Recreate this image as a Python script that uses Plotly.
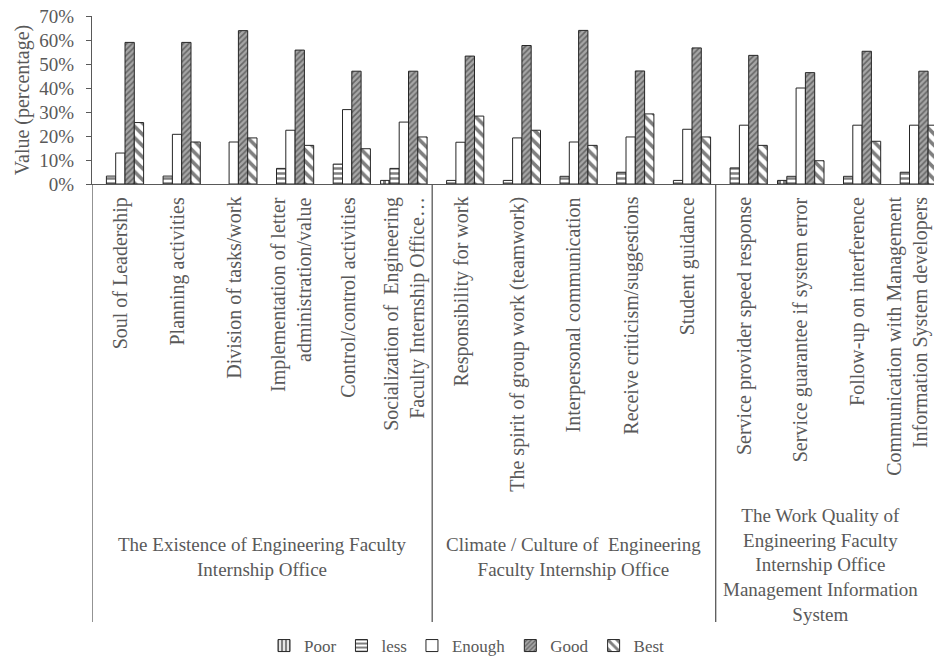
import plotly.graph_objects as go

categories = [
    "Soul of Leadership",
    "Planning activities",
    "Division of tasks/work",
    "Implementation of letter<br>administration/value",
    "Control/control activities",
    "Socialization of  Engineering<br>Faculty Internship Office…",
    "Responsibility for work",
    "The spirit of group work (teamwork)",
    "Interpersonal communication",
    "Receive criticism/suggestions",
    "Student guidance",
    "Service provider speed response",
    "Service guarantee if system error",
    "Follow-up on interference",
    "Communication with Management<br>Information System developers",
]
groups = [
    "The Existence of Engineering Faculty<br>Internship Office",
    "Climate / Culture of  Engineering<br>Faculty Internship Office",
    "The Work Quality of<br>Engineering Faculty<br>Internship Office<br>Management Information<br>System",
]
group_sizes = [6, 5, 4]

poor = [None, None, None, None, None, 1.5, None, None, None, None, None, None, 1.5, None, None]
less = [3.3, 3.3, None, 6.5, 8.3, 6.5, 1.5, 1.5, 3.2, 4.9, 1.5, 6.7, 3.2, 3.2, 4.9]
enough = [12.9, 20.7, 17.5, 22.4, 31.0, 25.8, 17.4, 19.2, 17.5, 19.6, 22.8, 24.5, 40.0, 24.5, 24.5]
good = [59.0, 59.0, 63.9, 55.8, 47.0, 47.0, 53.3, 57.7, 64.0, 47.1, 56.7, 53.6, 46.4, 55.3, 47.0]
best = [25.6, 17.5, 19.2, 16.1, 14.7, 19.6, 28.3, 22.4, 16.1, 29.2, 19.6, 16.1, 9.7, 17.8, 24.5]

series_names = ["Poor", "less", "Enough", "Good", "Best"]
series_values = [poor, less, enough, good, best]

FONT = "Liberation Serif"
TXT = "#595959"
EDGE = "#262626"

patterns = {
    "Poor": dict(shape="|", fgcolor="#000000", bgcolor="#ffffff", size=5, solidity=0.6),
    "less": dict(shape="-", fgcolor="#000000", bgcolor="#ffffff", size=5, solidity=0.5),
    "Enough": dict(shape="", fgcolor="#000000", bgcolor="#ffffff"),
    "Good": dict(shape="/", fgcolor="#262626", bgcolor="#a6a6a6", size=4, solidity=0.4),
    "Best": dict(shape="\\", fgcolor="#000000", bgcolor="#ffffff", size=8, solidity=0.45),
}

x_idx = list(range(len(categories)))

fig = go.Figure()
for name, vals in zip(series_names, series_values):
    fig.add_trace(go.Bar(
        name=name, x=x_idx, y=vals,
        marker=dict(color="#ffffff", line=dict(color=EDGE, width=1),
                    pattern=patterns[name]),
    ))

fig_w, fig_h = 934, 665
left, top, bottom_px = 92, 16, 184
plot_h = bottom_px - top
slot = 56.7
x_end = -0.5 + (fig_w - left) / slot


def py(p):
    return (bottom_px - p) / plot_h

annotations = []
for i, c in enumerate(categories):
    # nudge the last (edge) label slightly left so it stays inside the window
    lx = i - 0.12 if i == len(categories) - 1 else i
    annotations.append(dict(
        x=lx, xref="x", y=py(195), yref="paper", text=c, textangle=-90,
        showarrow=False, yanchor="top", xanchor="center", align="right",
        font=dict(family=FONT, size=20, color=TXT),
    ))

starts = [0]
for s in group_sizes[:-1]:
    starts.append(starts[-1] + s)
group_centers_y = [557, 557, 565]
group_centers_x = [2.5, 8.0, 12.35]
for g, gx, gy in zip(groups, group_centers_x, group_centers_y):
    annotations.append(dict(
        x=gx, xref="x", y=py(gy), yref="paper", text=g,
        showarrow=False, yanchor="middle", xanchor="center", align="center",
        font=dict(family=FONT, size=19, color=TXT),
    ))

shapes = []
for b in [-0.5] + [st - 0.5 for st in starts[1:]]:
    shapes.append(dict(type="line", xref="x", yref="paper", x0=b, x1=b,
                       y0=0, y1=py(622), line=dict(color="#595959", width=1.3)))

fig.update_layout(
    width=fig_w, height=fig_h, autosize=False,
    margin=dict(l=left, r=0, t=top, b=fig_h - bottom_px, autoexpand=False),
    paper_bgcolor="white", plot_bgcolor="white",
    barmode="group", bargap=0.18, bargroupgap=0,
    font=dict(family=FONT, color=TXT),
    showlegend=True,
    legend=dict(orientation="h", xref="container", yref="container",
                x=467 / fig_w, xanchor="center",
                y=(fig_h - 646) / fig_h, yanchor="middle",
                font=dict(family=FONT, size=17, color=TXT),
                itemwidth=30, traceorder="normal", tracegroupgap=0),
    annotations=annotations, shapes=shapes,
)
fig.update_xaxes(range=[-0.5, x_end], showticklabels=False, showgrid=False,
                 showline=True, linecolor="#595959", linewidth=1.3, ticks="",
                 zeroline=False, fixedrange=True, automargin=False)
fig.update_yaxes(range=[0, 70], dtick=10, ticksuffix="%", showgrid=False,
                 showline=True, linecolor="#595959", linewidth=1.3,
                 ticks="outside", ticklen=5, tickcolor="#595959",
                 ticklabelstandoff=8, ticklabeloverflow="allow",
                 tickfont=dict(family=FONT, size=19, color=TXT),
                 title=dict(text="Value (percentage)", standoff=4,
                            font=dict(family=FONT, size=20, color=TXT)),
                 zeroline=False, automargin=False)

fig.write_html(
    "out.html",
    config={"displayModeBar": False},
    post_script="document.body.style.margin='0';document.body.style.overflow='hidden';",
)
